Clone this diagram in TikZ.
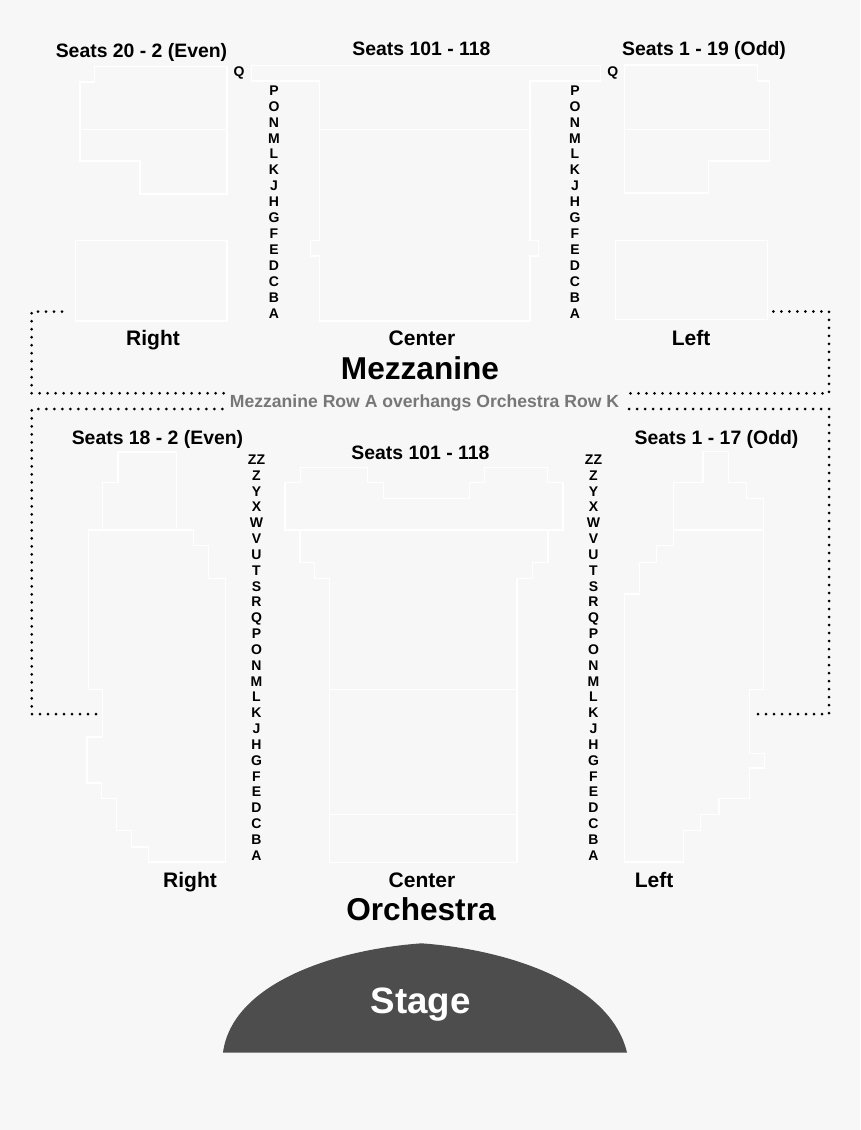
\documentclass[tikz,border=0pt]{standalone}
\usepackage{fontspec}
\setmainfont{Liberation Sans}
\definecolor{pagegray}{HTML}{F7F7F7}
\definecolor{stagegray}{HTML}{4D4D4D}
\definecolor{notegray}{HTML}{777777}
\begin{document}
\begin{tikzpicture}[x=1pt, y=-1pt,
  section/.style={draw=white, line width=1.2pt},
  dots/.style={draw=black, line width=3pt, line cap=round, dash pattern=on 0pt off 8pt},
  rowmark/.style={inner sep=0pt, text height=10pt, text depth=0pt, font=\bfseries\fontsize{14}{14}\selectfont},
  seats/.style={inner sep=0pt, anchor=base, font=\bfseries\fontsize{19.4}{19.4}\selectfont},
  note/.style={inner sep=0pt, anchor=base, text=notegray, font=\bfseries\fontsize{17.6}{17.6}\selectfont},
  part/.style={inner sep=0pt, anchor=base, font=\bfseries\fontsize{21}{21}\selectfont},
  level/.style={inner sep=0pt, anchor=base, font=\bfseries\fontsize{31.6}{31.6}\selectfont},
  stagename/.style={inner sep=0pt, anchor=base, text=white, font=\bfseries\fontsize{36.7}{36.7}\selectfont}]
\fill[pagegray] (0,0) rectangle (860,1130);
\useasboundingbox (0,0) rectangle (860,1130);
\draw[section] (94.5,66.5) -- (227,66.5) -- (227,194) -- (140,194) -- (140,161) -- (80,161) -- (80,82) -- (94.5,82) -- cycle;
\draw[section] (80,129.5) -- (227,129.5);
\draw[section] (75.7,240.7) rectangle (227,321);
\draw[section] (251.7,65.3) -- (600.7,65.3) -- (600.7,81) -- (530,81) -- (530,240.3) -- (538.7,240.3) -- (538.7,256) -- (530,256) -- (530,321) -- (319.3,321) -- (319.3,256) -- (310.3,256) -- (310.3,240.3) -- (319.3,240.3) -- (319.3,81) -- (251.7,81) -- cycle;
\draw[section] (319.3,129.5) -- (530,129.5);
\draw[section] (624.3,65) -- (757.3,65) -- (757.3,81) -- (769.3,81) -- (769.3,161) -- (708.3,161) -- (708.3,193) -- (624.3,193) -- cycle;
\draw[section] (624.3,129.5) -- (769.3,129.5);
\draw[section] (615.7,240.7) rectangle (767.7,319.3);
\draw[section] (118,452) -- (176.7,452) -- (176.7,530) -- (193.3,530) -- (193.3,545.7) -- (208.7,545.7) -- (208.7,578.3) -- (225.7,578.3) -- (225.7,862) -- (148.7,862) -- (148.7,847) -- (131.7,847) -- (131.7,830.3) -- (116.7,830.3) -- (116.7,798.7) -- (101.7,798.7) -- (101.7,783) -- (87,783) -- (87,737) -- (102.3,737) -- (102.3,689.3) -- (88.7,689.3) -- (88.7,530) -- (102.7,530) -- (102.7,482.7) -- (118,482.7) -- cycle;
\draw[section] (88.7,530) -- (193.3,530);
\draw[section] (300.3,467.7) -- (367.3,467.7) -- (367.3,482.7) -- (383.7,482.7) -- (383.7,498.3) -- (469.3,498.3) -- (469.3,482.7) -- (484.7,482.7) -- (484.7,467.7) -- (547.7,467.7) -- (547.7,482.7) -- (563,482.7) -- (563,530) -- (548,530) -- (548,562.3) -- (532.3,562.3) -- (532.3,578.3) -- (517,578.3) -- (517,862.3) -- (329.7,862.3) -- (329.7,578.3) -- (314.3,578.3) -- (314.3,562.3) -- (300,562.3) -- (300,530) -- (285,530) -- (285,482.7) -- (300.3,482.7) -- cycle;
\draw[section] (285,530) -- (563,530);
\draw[section] (329.7,689.3) -- (517,689.3);
\draw[section] (329.7,814.7) -- (517,814.7);
\draw[section] (703,451.7) -- (728.7,451.7) -- (728.7,482.7) -- (746.3,482.7) -- (746.3,498.3) -- (763.7,498.3) -- (763.7,689.3) -- (749.3,689.3) -- (749.3,753.3) -- (764.7,753.3) -- (764.7,768) -- (749.3,768) -- (749.3,798.3) -- (719,798.3) -- (719,814.7) -- (700.7,814.7) -- (700.7,830.3) -- (683.3,830.3) -- (683.3,862) -- (624.7,862) -- (624.7,594) -- (639.3,594) -- (639.3,562.3) -- (656.7,562.3) -- (656.7,545.7) -- (673.7,545.7) -- (673.7,482.7) -- (703,482.7) -- cycle;
\draw[section] (673.7,530) -- (763.7,530);
\draw[dots] (62,311.5) -- (31.7,311.5) -- (31.7,393.3) -- (224,393.3);
\draw[dots] (96,714) -- (31.7,714) -- (31.7,409) -- (223,409);
\draw[dots] (773.3,311.5) -- (829,311.5) -- (829,393.3) -- (630,393.3);
\draw[dots] (758,714) -- (829,714) -- (829,409) -- (628,409);
\fill[stagegray] (223,1052.5) .. controls (232,985) and (330,950) .. (421.5,943.3) .. controls (513,950) and (611,985) .. (627,1052.5) -- cycle;
\node[seats] (mzseatsr) at (141.5,57){Seats 20 - 2 (Even)};
\node[seats] (mzseatsc) at (421.5,55){Seats 101 - 118};
\node[seats] (mzseatsl) at (704,55){Seats 1 - 19 (Odd)};
\node[part] (mzright) at (153,345){Right};
\node[part] (mzcenter) at (422,345){Center};
\node[part] (mzleft) at (691,345){Left};
\node[level] (mezzanine) at (420,379){Mezzanine};
\node[note] (overhang) at (424.5,407.4){Mezzanine Row A overhangs Orchestra Row K};
\node[seats] (orseatsr) at (157.5,444.5){Seats 18 - 2 (Even)};
\node[seats] (orseatsc) at (420.5,459){Seats 101 - 118};
\node[seats] (orseatsl) at (716.5,444.5){Seats 1 - 17 (Odd)};
\node[part] (orright) at (190,887){Right};
\node[part] (orcenter) at (422,887){Center};
\node[part] (orleft) at (654,887){Left};
\node[level] (orchestra) at (421,920){Orchestra};
\node[stagename] (stage) at (420.5,1013.5){Stage};
\node[rowmark] (mrQ) at (239,71.7){Q};
\node[rowmark] (mlQ) at (612.7,71.7){Q};
\node[rowmark] (mrP) at (274,90.3){P};
\node[rowmark] (mrO) at (274,106.2){O};
\node[rowmark] (mrN) at (274,122.1){N};
\node[rowmark] (mrM) at (274,138){M};
\node[rowmark] (mrL) at (274,153.9){L};
\node[rowmark] (mrK) at (274,169.8){K};
\node[rowmark] (mrJ) at (274,185.7){J};
\node[rowmark] (mrH) at (274,201.6){H};
\node[rowmark] (mrG) at (274,217.5){G};
\node[rowmark] (mrF) at (274,233.4){F};
\node[rowmark] (mrE) at (274,249.3){E};
\node[rowmark] (mrD) at (274,265.2){D};
\node[rowmark] (mrC) at (274,281.1){C};
\node[rowmark] (mrB) at (274,297){B};
\node[rowmark] (mrA) at (274,313){A};
\node[rowmark] (mlP) at (575,90.3){P};
\node[rowmark] (mlO) at (575,106.2){O};
\node[rowmark] (mlN) at (575,122.1){N};
\node[rowmark] (mlM) at (575,138){M};
\node[rowmark] (mlL) at (575,153.9){L};
\node[rowmark] (mlK) at (575,169.8){K};
\node[rowmark] (mlJ) at (575,185.7){J};
\node[rowmark] (mlH) at (575,201.6){H};
\node[rowmark] (mlG) at (575,217.5){G};
\node[rowmark] (mlF) at (575,233.4){F};
\node[rowmark] (mlE) at (575,249.3){E};
\node[rowmark] (mlD) at (575,265.2){D};
\node[rowmark] (mlC) at (575,281.1){C};
\node[rowmark] (mlB) at (575,297){B};
\node[rowmark] (mlA) at (575,313){A};
\node[rowmark] (orZZ) at (256.5,459.3){ZZ};
\node[rowmark] (orZ) at (256.5,475.1){Z};
\node[rowmark] (orY) at (256.5,491){Y};
\node[rowmark] (orX) at (256.5,506.8){X};
\node[rowmark] (orW) at (256.5,522.7){W};
\node[rowmark] (orV) at (256.5,538.5){V};
\node[rowmark] (orU) at (256.5,554.3){U};
\node[rowmark] (orT) at (256.5,570.2){T};
\node[rowmark] (orS) at (256.5,586){S};
\node[rowmark] (orR) at (256.5,601.9){R};
\node[rowmark] (orQ) at (256.5,617.7){Q};
\node[rowmark] (orP) at (256.5,633.5){P};
\node[rowmark] (orO) at (256.5,649.4){O};
\node[rowmark] (orN) at (256.5,665.2){N};
\node[rowmark] (orM) at (256.5,681.1){M};
\node[rowmark] (orL) at (256.5,696.9){L};
\node[rowmark] (orK) at (256.5,712.7){K};
\node[rowmark] (orJ) at (256.5,728.6){J};
\node[rowmark] (orH) at (256.5,744.4){H};
\node[rowmark] (orG) at (256.5,760.3){G};
\node[rowmark] (orF) at (256.5,776.1){F};
\node[rowmark] (orE) at (256.5,791.9){E};
\node[rowmark] (orD) at (256.5,807.8){D};
\node[rowmark] (orC) at (256.5,823.6){C};
\node[rowmark] (orB) at (256.5,839.5){B};
\node[rowmark] (orA) at (256.5,855.3){A};
\node[rowmark] (olZZ) at (593.5,459.3){ZZ};
\node[rowmark] (olZ) at (593.5,475.1){Z};
\node[rowmark] (olY) at (593.5,491){Y};
\node[rowmark] (olX) at (593.5,506.8){X};
\node[rowmark] (olW) at (593.5,522.7){W};
\node[rowmark] (olV) at (593.5,538.5){V};
\node[rowmark] (olU) at (593.5,554.3){U};
\node[rowmark] (olT) at (593.5,570.2){T};
\node[rowmark] (olS) at (593.5,586){S};
\node[rowmark] (olR) at (593.5,601.9){R};
\node[rowmark] (olQ) at (593.5,617.7){Q};
\node[rowmark] (olP) at (593.5,633.5){P};
\node[rowmark] (olO) at (593.5,649.4){O};
\node[rowmark] (olN) at (593.5,665.2){N};
\node[rowmark] (olM) at (593.5,681.1){M};
\node[rowmark] (olL) at (593.5,696.9){L};
\node[rowmark] (olK) at (593.5,712.7){K};
\node[rowmark] (olJ) at (593.5,728.6){J};
\node[rowmark] (olH) at (593.5,744.4){H};
\node[rowmark] (olG) at (593.5,760.3){G};
\node[rowmark] (olF) at (593.5,776.1){F};
\node[rowmark] (olE) at (593.5,791.9){E};
\node[rowmark] (olD) at (593.5,807.8){D};
\node[rowmark] (olC) at (593.5,823.6){C};
\node[rowmark] (olB) at (593.5,839.5){B};
\node[rowmark] (olA) at (593.5,855.3){A};
\end{tikzpicture}
\end{document}
